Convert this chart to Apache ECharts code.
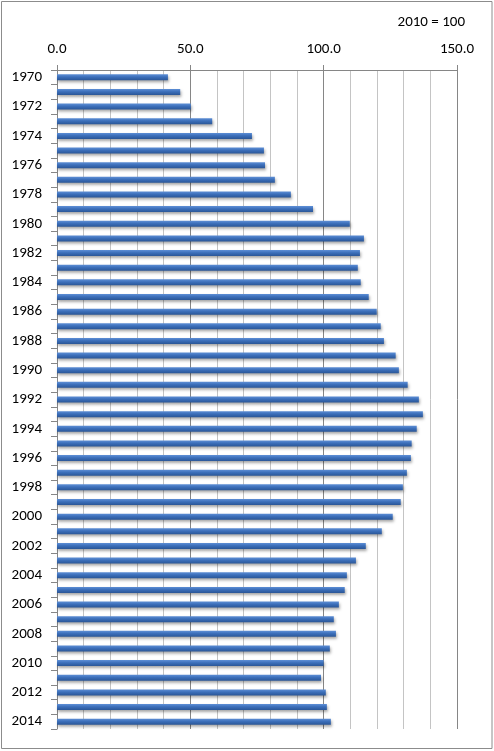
<!DOCTYPE html>
<html>
<head>
<meta charset="utf-8">
<script src="https://cdn.jsdelivr.net/npm/echarts@6/dist/echarts.min.js"></script>
<style>
html,body{margin:0;padding:0;background:#fff;}
#chart{width:494px;height:751px;}
</style>
</head>
<body>
<div id="chart"></div>
<script>
var years = ['1970','1971','1972','1973','1974','1975','1976','1977','1978','1979',
  '1980','1981','1982','1983','1984','1985','1986','1987','1988','1989',
  '1990','1991','1992','1993','1994','1995','1996','1997','1998','1999',
  '2000','2001','2002','2003','2004','2005','2006','2007','2008','2009',
  '2010','2011','2012','2013','2014'];
var indexValues = [41.6,46.2,50.2,58.2,73.1,77.6,78.0,81.7,87.7,96.0,
  109.8,115.1,113.6,112.8,113.9,116.9,119.9,121.4,122.6,127.0,
  128.2,131.5,135.7,137.2,134.9,133.0,132.7,131.2,129.7,128.9,
  125.9,121.8,115.8,112.1,108.7,107.9,105.7,103.8,104.6,102.3,
  100.0,99.0,100.8,101.2,102.7];
var axisMin = 0, axisMax = 150, axisStep = 50;
var noteText = '2010 = 100';

var chart = echarts.init(document.getElementById('chart'), null, {renderer:'canvas'});
var font = 'Carlito, Lato, sans-serif';
chart.setOption({
  animation: false,
  backgroundColor: '#fff',
  grid: {left: 57, right: 37, top: 70, bottom: 22, containLabel: false},
  graphic: [
    {type:'rect', shape:{x:1.5, y:1.5, width:490.5, height:747}, style:{fill:'none', stroke:'#8c8c8c', lineWidth:1}, silent:true},
    {type:'text', right: 29, top: 15, style:{text: noteText, font: '15px ' + font, fill:'#000'}}
  ],
  xAxis: {
    type: 'value', position: 'top', min: axisMin, max: axisMax, interval: axisStep,
    axisLine: {show: true, lineStyle: {color: '#868686', width: 1}},
    axisTick: {show: true, length: 5, lineStyle: {color: '#868686'}},
    minorTick: {show: false, splitNumber: 5},
    minorSplitLine: {show: true, lineStyle: {color: '#c4c4c4', width: 1}},
    splitLine: {show: true, lineStyle: {color: '#868686', width: 1}},
    axisLabel: {margin: 13, color: '#000', fontSize: 15, fontFamily: font,
      formatter: function(v){ return v.toFixed(1); }}
  },
  yAxis: {
    type: 'category', data: years, inverse: true,
    axisLine: {show: true, lineStyle: {color: '#868686', width: 1}},
    axisTick: {show: true, length: 6, alignWithLabel: false, interval: 0, lineStyle: {color: '#868686'}},
    axisLabel: {interval: 1, margin: 15, color: '#000', fontSize: 15, fontFamily: font},
    splitLine: {show: false}
  },
  series: [{
    type: 'bar', data: indexValues, barWidth: 6,
    itemStyle: {
      color: new echarts.graphic.LinearGradient(0,0,0,1,[
        {offset:0, color:'#5e8fd6'},
        {offset:0.45, color:'#3c6fba'},
        {offset:1, color:'#2a5697'}
      ]),
      shadowColor: 'rgba(0,0,0,0.35)', shadowBlur: 3, shadowOffsetY: 2, shadowOffsetX: 1
    }
  }]
});
</script>
</body>
</html>
